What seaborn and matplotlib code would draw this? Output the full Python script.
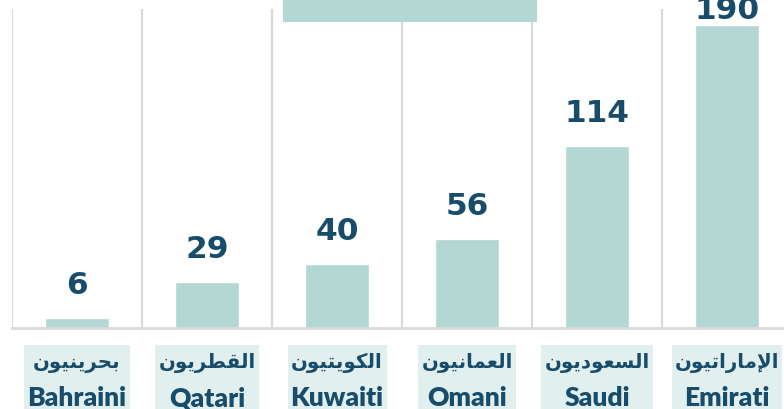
import numpy as np
import pandas as pd
import matplotlib
matplotlib.use("Agg")
import matplotlib.pyplot as plt
from matplotlib.patches import Rectangle
from matplotlib.transforms import Bbox
import seaborn as sns

# ---- data ----
arabic_names = ["بحرينيون", "القطريون", "الكويتيون", "العمانيون", "السعوديون", "الإماراتيون"]
english_names = ["Bahraini", "Qatari", "Kuwaiti", "Omani", "Saudi", "Emirati"]
values = [6, 29, 40, 56, 114, 190]

# ---- minimal Arabic shaping (presentation forms) for matplotlib ----
FORMS = {  # iso, final, initial, medial
    "ا": ("\uFE8D", "\uFE8E", None, None),
    "إ": ("\uFE87", "\uFE88", None, None),
    "ب": ("\uFE8F", "\uFE90", "\uFE91", "\uFE92"),
    "ت": ("\uFE95", "\uFE96", "\uFE97", "\uFE98"),
    "ح": ("\uFEA1", "\uFEA2", "\uFEA3", "\uFEA4"),
    "د": ("\uFEA9", "\uFEAA", None, None),
    "ر": ("\uFEAD", "\uFEAE", None, None),
    "س": ("\uFEB1", "\uFEB2", "\uFEB3", "\uFEB4"),
    "ط": ("\uFEC1", "\uFEC2", "\uFEC3", "\uFEC4"),
    "ع": ("\uFEC9", "\uFECA", "\uFECB", "\uFECC"),
    "ق": ("\uFED5", "\uFED6", "\uFED7", "\uFED8"),
    "ك": ("\uFED9", "\uFEDA", "\uFEDB", "\uFEDC"),
    "ل": ("\uFEDD", "\uFEDE", "\uFEDF", "\uFEE0"),
    "م": ("\uFEE1", "\uFEE2", "\uFEE3", "\uFEE4"),
    "ن": ("\uFEE5", "\uFEE6", "\uFEE7", "\uFEE8"),
    "و": ("\uFEED", "\uFEEE", None, None),
    "ي": ("\uFEF1", "\uFEF2", "\uFEF3", "\uFEF4"),
}
LAM_ALEF = {"ا": ("\uFEFB", "\uFEFC"), "إ": ("\uFEF9", "\uFEFA")}


def shape(word):
    tokens = []
    i = 0
    while i < len(word):
        c = word[i]
        if c == "ل" and i + 1 < len(word) and word[i + 1] in LAM_ALEF:
            tokens.append(("LA", word[i + 1]))
            i += 2
        else:
            tokens.append(("C", c))
            i += 1

    def joins_next(tok):
        if tok[0] == "LA":
            return False
        return FORMS[tok[1]][2] is not None

    out = []
    for k, tok in enumerate(tokens):
        prev_conn = k > 0 and joins_next(tokens[k - 1])
        if tok[0] == "LA":
            iso, fin = LAM_ALEF[tok[1]]
            out.append(fin if prev_conn else iso)
            continue
        f = FORMS[tok[1]]
        next_conn = joins_next(tok) and k + 1 < len(tokens)
        if prev_conn and next_conn:
            out.append(f[3])
        elif prev_conn:
            out.append(f[1])
        elif next_conn:
            out.append(f[2])
        else:
            out.append(f[0])
    return "".join(reversed(out))


df = pd.DataFrame({"country": english_names, "value": values})

# ---- style ----
BAR = "#b3d7d3"
BOX = "#e1f0ee"
NAVY = "#184c6b"
GRID = "#d9d9d9"

sns.set_theme(style="white")
plt.rcParams["font.family"] = ["DejaVu Sans"]

W, H = 784, 409
fig = plt.figure(figsize=(W / 100, H / 100), dpi=100)
AX_TOP, AX_BOT = 9, 328
ax = fig.add_axes([12 / W, (H - AX_BOT) / H, 780 / W, (AX_BOT - AX_TOP) / H])

sns.barplot(data=df, x="country", y="value", color=BAR, width=0.49,
            saturation=1, ax=ax)
ax.set_ylim(0, 200)
ax.set_xlim(-0.5, 5.5)
ax.set_xlabel("")
ax.set_ylabel("")
ax.set_yticks([])

for sp in ["top", "right", "left"]:
    ax.spines[sp].set_visible(False)
ax.spines["bottom"].set_color(GRID)
ax.spines["bottom"].set_linewidth(2)

ax.set_xticks(np.arange(-0.5, 6, 1), minor=True)
ax.grid(False)
ax.grid(which="minor", axis="x", color=GRID, linewidth=1.6)
ax.tick_params(axis="x", which="minor", length=7.5, width=1.6, color=GRID, direction="out")
ax.tick_params(axis="x", which="major", length=0, labelbottom=False)


def ay(px):  # pixel row (from top) -> axes fraction
    return (AX_BOT - px) / (AX_BOT - AX_TOP)


trans = ax.get_xaxis_transform()
eng_texts, ar_texts = [], []
for i, (a, e) in enumerate(zip(arabic_names, english_names)):
    eng_texts.append(ax.text(i, ay(406), e, transform=trans, ha="center", va="baseline",
                             fontsize=19, fontweight="heavy", family=["Lato", "DejaVu Sans"],
                             color=NAVY, clip_on=False, zorder=4))
    ar_texts.append(ax.text(i, ay(368), shape(a), transform=trans, ha="center", va="baseline",
                            fontsize=14.2, fontweight="bold", family="DejaVu Sans",
                            color=NAVY, clip_on=False, zorder=4))

# value labels
for i, v in enumerate(values):
    off = 13 if v < 180 else 0
    ax.annotate(str(v), (i, v), xytext=(0, off), textcoords="offset points",
                ha="center", va="bottom", fontsize=22.5, fontweight="bold",
                color=NAVY, family="DejaVu Sans", annotation_clip=False)

# background boxes behind the two-line category labels
fig.canvas.draw()
r = fig.canvas.get_renderer()
inv = fig.transFigure.inverted()
for et, at in zip(eng_texts, ar_texts):
    bb = Bbox.union([et.get_window_extent(r), at.get_window_extent(r)])
    x0, x1 = bb.x0 - 3, bb.x1 + 3
    y1 = H - 345
    (fx0, fy0), (fx1, fy1) = inv.transform([(x0, -5), (x1, y1)])
    ax.add_patch(Rectangle((fx0, fy0), fx1 - fx0, fy1 - fy0,
                           transform=fig.transFigure, facecolor=BOX,
                           edgecolor="none", zorder=3, clip_on=False))

fig.patches.append(Rectangle((283 / W, 1 - 22 / H), 254 / W, 22 / H,
                             transform=fig.transFigure, facecolor=BAR,
                             edgecolor="none", zorder=5))

fig.savefig("out.png", dpi=100)
